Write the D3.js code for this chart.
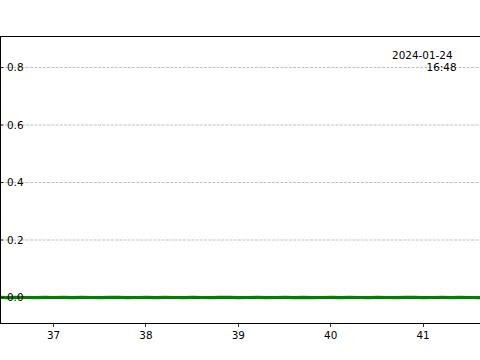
<!DOCTYPE html>
<html><head><meta charset="utf-8">
<script src="https://cdn.jsdelivr.net/npm/d3@7"></script>
<style>body{margin:0;background:#fff}svg{display:block}text{font-family:"DejaVu Sans",sans-serif}</style>
</head><body><svg id="c" width="480" height="360"></svg>
<script>
const times = [36.4,36.5,36.6,36.7,36.8,36.9,37.0,37.1,37.2,37.3,37.4,37.5,37.6,37.7,37.8,37.9,38.0,38.1,38.2,38.3,38.4,38.5,38.6,38.7,38.8,38.9,39.0,39.1,39.2,39.3,39.4,39.5,39.6,39.7,39.8,39.9,40.0,40.1,40.2,40.3,40.4,40.5,40.6,40.7,40.8,40.9,41.0,41.1,41.2,41.3,41.4,41.5,41.6,41.7];
const greenValues = [0.0003,-0.0002,0.0004,0.0000,-0.0003,0.0002,0.0000,0.0004,-0.0002,0.0002,0.0000,-0.0004,0.0002,0.0004,-0.0002,0.0000,0.0002,-0.0002,0.0004,0.0000,-0.0002,0.0002,0.0000,-0.0004,0.0002,0.0004,-0.0002,0.0000,0.0002,-0.0004,0.0000,0.0002,-0.0006,0.0004,-0.0002,0.0000,0.0002,-0.0002,0.0004,0.0000,-0.0002,0.0002,0.0000,-0.0004,0.0002,0.0004,-0.0002,0.0000,0.0002,-0.0002,0.0004,0.0000,-0.0002,0.0002];
const blueValues = [0.0010,0.0004,0.0012,0.0002,0.0008,0.0010,0.0000,0.0012,0.0006,0.0010,0.0008,0.0004,0.0012,0.0010,0.0006,0.0000,0.0010,0.0008,0.0012,0.0006,0.0004,0.0010,0.0008,0.0012,0.0002,0.0010,0.0008,0.0004,0.0012,0.0006,0.0010,0.0000,0.0008,0.0012,0.0004,0.0010,0.0006,0.0012,0.0008,0.0004,0.0010,0.0012,0.0006,0.0008,0.0012,0.0004,0.0010,0.0008,0.0012,0.0006,0.0010,0.0004,0.0012,0.0008];
const xTicks = [37,38,39,40,41];
const yTicks = [0.0,0.2,0.4,0.6,0.8];
const stampLines = ["2024-01-24","16:48"];

const svg = d3.select("#c");
const L=0.5, T=36.5, B=323.5, R=490;
const x = d3.scaleLinear().domain([36.4149, 41.7198]).range([0, 490]);
const y = d3.scaleLinear().domain([0, 0.8]).range([297.5, 67.5]);

svg.append("g").selectAll("line").data(yTicks).join("line")
  .attr("x1",L).attr("x2",R).attr("y1",d=>y(d)).attr("y2",d=>y(d))
  .attr("stroke","#b0b0b0").attr("stroke-width",0.8).attr("stroke-dasharray","2.96,1.28");

const line = vals => d3.line().x((d,i)=>x(times[i])).y(d=>y(d))(vals);
svg.append("path").attr("d",line(blueValues)).attr("fill","none").attr("stroke","#1f1fb4").attr("stroke-width",1.2);
svg.append("path").attr("d",line(greenValues)).attr("fill","none").attr("stroke","#008000").attr("stroke-width",3.2);

svg.append("line").attr("x1",L).attr("x2",L).attr("y1",T).attr("y2",B).attr("stroke","#000").attr("stroke-width",1);
svg.append("line").attr("x1",0).attr("x2",480).attr("y1",T).attr("y2",T).attr("stroke","#000").attr("stroke-width",1);
svg.append("line").attr("x1",0).attr("x2",480).attr("y1",B).attr("y2",B).attr("stroke","#000").attr("stroke-width",1);

const xg = svg.append("g");
xg.selectAll("line").data(xTicks).join("line")
  .attr("x1",d=>Math.round(x(d))-0.5).attr("x2",d=>Math.round(x(d))-0.5).attr("y1",B).attr("y2",B+3.5)
  .attr("stroke","#000").attr("stroke-width",0.8);
xg.selectAll("text").data(xTicks).join("text")
  .attr("x",d=>x(d)-0.5).attr("y",339).attr("text-anchor","middle").attr("font-size",10.4).attr("fill","#000")
  .text(d=>d);

const yg = svg.append("g");
yg.selectAll("line").data(yTicks).join("line")
  .attr("x1",0).attr("x2",3.5).attr("y1",d=>y(d)).attr("y2",d=>y(d))
  .attr("stroke","#000").attr("stroke-width",0.8);
yg.selectAll("text").data(yTicks).join("text")
  .attr("x",7).attr("y",d=>y(d)+3.8).attr("font-size",10.4).attr("fill","#000")
  .text(d=>d.toFixed(1));

svg.append("text").attr("x",452.5).attr("y",58.8).attr("text-anchor","end").attr("font-size",10.4).attr("fill","#000").text(stampLines[0]);
svg.append("text").attr("x",456.5).attr("y",70.8).attr("text-anchor","end").attr("font-size",10.4).attr("fill","#000").text(stampLines[1]);
</script></body></html>
